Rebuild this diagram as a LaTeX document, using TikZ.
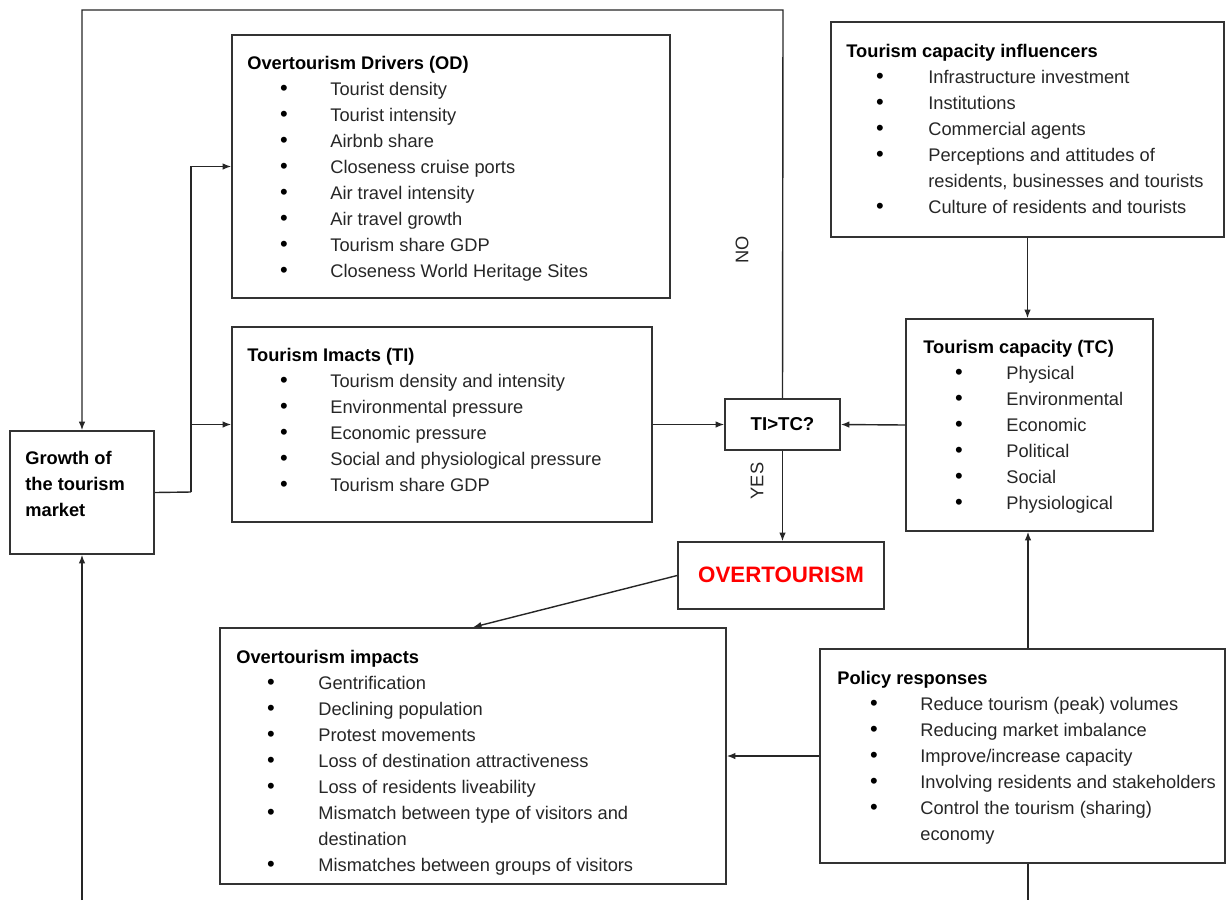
\documentclass[tikz,border=0pt]{standalone}
\usepackage{fontspec}
\setmainfont{Liberation Sans}
\usetikzlibrary{arrows.meta,fit}
\begin{document}
\begin{tikzpicture}[x=0.02cm,y=-0.02cm,
  box/.style={draw=black!80,line width=0.9pt,inner sep=0pt,fill=none},
  ttl/.style={anchor=mid west,inner sep=0pt,yshift=-0.04cm,font=\fontsize{10.4}{12}\selectfont\bfseries,text=black},
  itm/.style={anchor=mid west,inner sep=0pt,yshift=-0.04cm,font=\fontsize{10.4}{12}\selectfont,text=black!85},
  bul/.style={anchor=mid,inner sep=0pt,yshift=-0.03cm,font=\fontsize{12.5}{14}\selectfont,text=black},
  con/.style={draw=black!85,line width=0.8pt},
  arr/.style={con,-{Latex[length=1.7mm,width=1.3mm]}},
  lbl/.style={inner sep=0pt,font=\fontsize{10.4}{12}\selectfont,text=black!85,rotate=90}]
\useasboundingbox (0,0) rectangle (1226,900);

% ---------- boxes ----------
\node[box,fit={(232,35) (670,298)}] (od) {};
\node[box,fit={(232,327) (652,522)}] (ti) {};
\node[box,fit={(10,431) (154,554)}] (gr) {};
\node[box,fit={(725,399) (840,450)}] (q) {};
\node[box,fit={(831,22) (1224,237)}] (tci) {};
\node[box,fit={(906,319) (1153,531)}] (tc) {};
\node[box,fit={(678,542) (884,609)}] (ot) {};
\node[box,fit={(220,628) (726,884)}] (oi) {};
\node[box,fit={(820,649) (1225,863)}] (pol) {};

% ---------- texts ----------
% Growth
\node[ttl] (gr-1) at (25,458) {Growth of};
\node[ttl] (gr-2) at (25,484) {the tourism};
\node[ttl] (gr-3) at (25,510) {market};

% Decision
\node[inner sep=0pt,font=\fontsize{10.6}{12}\selectfont\bfseries] (q-t) at (q.center) {TI>TC?};
% Overtourism
\node[inner sep=0pt,font=\fontsize{12.7}{14}\selectfont\bfseries,text=red] (ot-t) at (781,575) {OVERTOURISM};

% OD
\node[ttl] (od-t) at (247,63) {Overtourism Drivers (OD)};
\foreach \t [count=\i] in {Tourist density,Tourist intensity,Airbnb share,Closeness cruise ports,Air travel intensity,Air travel growth,Tourism share GDP,Closeness World Heritage Sites}{
  \node[bul] (od-b\i) at (284,{63+26*\i}) {•};
  \node[itm] (od-i\i) at (330,{63+26*\i}) {\t};
}

% TI
\node[ttl] (ti-t) at (247,355) {Tourism Imacts (TI)};
\foreach \t [count=\i] in {Tourism density and intensity,Environmental pressure,Economic pressure,Social and physiological pressure,Tourism share GDP}{
  \node[bul] (ti-b\i) at (284,{355+26*\i}) {•};
  \node[itm] (ti-i\i) at (330,{355+26*\i}) {\t};
}

% TCI
\node[ttl] (tci-t) at (846,51) {Tourism capacity influencers};
\foreach \t/\yy [count=\i] in {Infrastructure investment/77,Institutions/103,Commercial agents/129,Perceptions and attitudes of/155,Culture of residents and tourists/207}{
  \node[bul] (tci-b\i) at (880,\yy) {•};
  \node[itm] (tci-i\i) at (928,\yy) {\t};
}
\node[itm] (tci-i4b) at (928,181) {residents, businesses and tourists};

% TC
\node[ttl] (tc-t) at (923,347) {Tourism capacity (TC)};
\foreach \t [count=\i] in {Physical,Environmental,Economic,Political,Social,Physiological}{
  \node[bul] (tc-b\i) at (959,{347+26*\i}) {•};
  \node[itm] (tc-i\i) at (1006,{347+26*\i}) {\t};
}

% OI
\node[ttl] (oi-t) at (236,657) {Overtourism impacts};
\foreach \t/\yy [count=\i] in {Gentrification/683,Declining population/709,Protest movements/735,Loss of destination attractiveness/761,Loss of residents liveability/787,Mismatch between type of visitors and/813,Mismatches between groups of visitors/865}{
  \node[bul] (oi-b\i) at (271,\yy) {•};
  \node[itm] (oi-i\i) at (318,\yy) {\t};
}
\node[itm] (oi-i6b) at (318,839) {destination};

% Policy
\node[ttl] (pol-t) at (837,678) {Policy responses};
\foreach \t [count=\i] in {Reduce tourism (peak) volumes,Reducing market imbalance,Improve/increase capacity,Involving residents and stakeholders,Control the tourism (sharing)}{
  \node[bul] (pol-b\i) at (874,{678+26*\i}) {•};
  \node[itm] (pol-i\i) at (920,{678+26*\i}) {\t};
}
\node[itm] (pol-i5b) at (920,834) {economy};

% ---------- connectors ----------
\coordinate (j1) at (191,492);
\coordinate (top) at (783,10);
\coordinate (bl) at (82,900);
\coordinate (br) at (1028,900);

\draw[con] (gr.east) -- (j1);
\draw[arr] (j1) |- (od.west);
\draw[arr] (j1) |- (ti.west);
\draw[arr] (ti.east) -- (q.west);
\draw[arr] (tc.west) -- (q.east);
\draw[arr] (q.north) -- (top) -| (gr.north);
\node[lbl] (no) at (742,250) {NO};
\draw[arr] (q.south) -- (q.south |- ot.north);
\node[lbl] (yes) at (757,481) {YES};
\draw[arr] (ot.west) -- (oi.north);
\draw[arr] (pol.west) -- (oi.east |- pol.west);
\draw[arr] (tci.south) -- (tci.south |- tc.north);
\draw[arr] (br |- pol.north) -- (br |- tc.south);
\draw[con] (br |- pol.south) -- (br);
\draw[arr] (bl) -- (gr.south);
\end{tikzpicture}
\end{document}
